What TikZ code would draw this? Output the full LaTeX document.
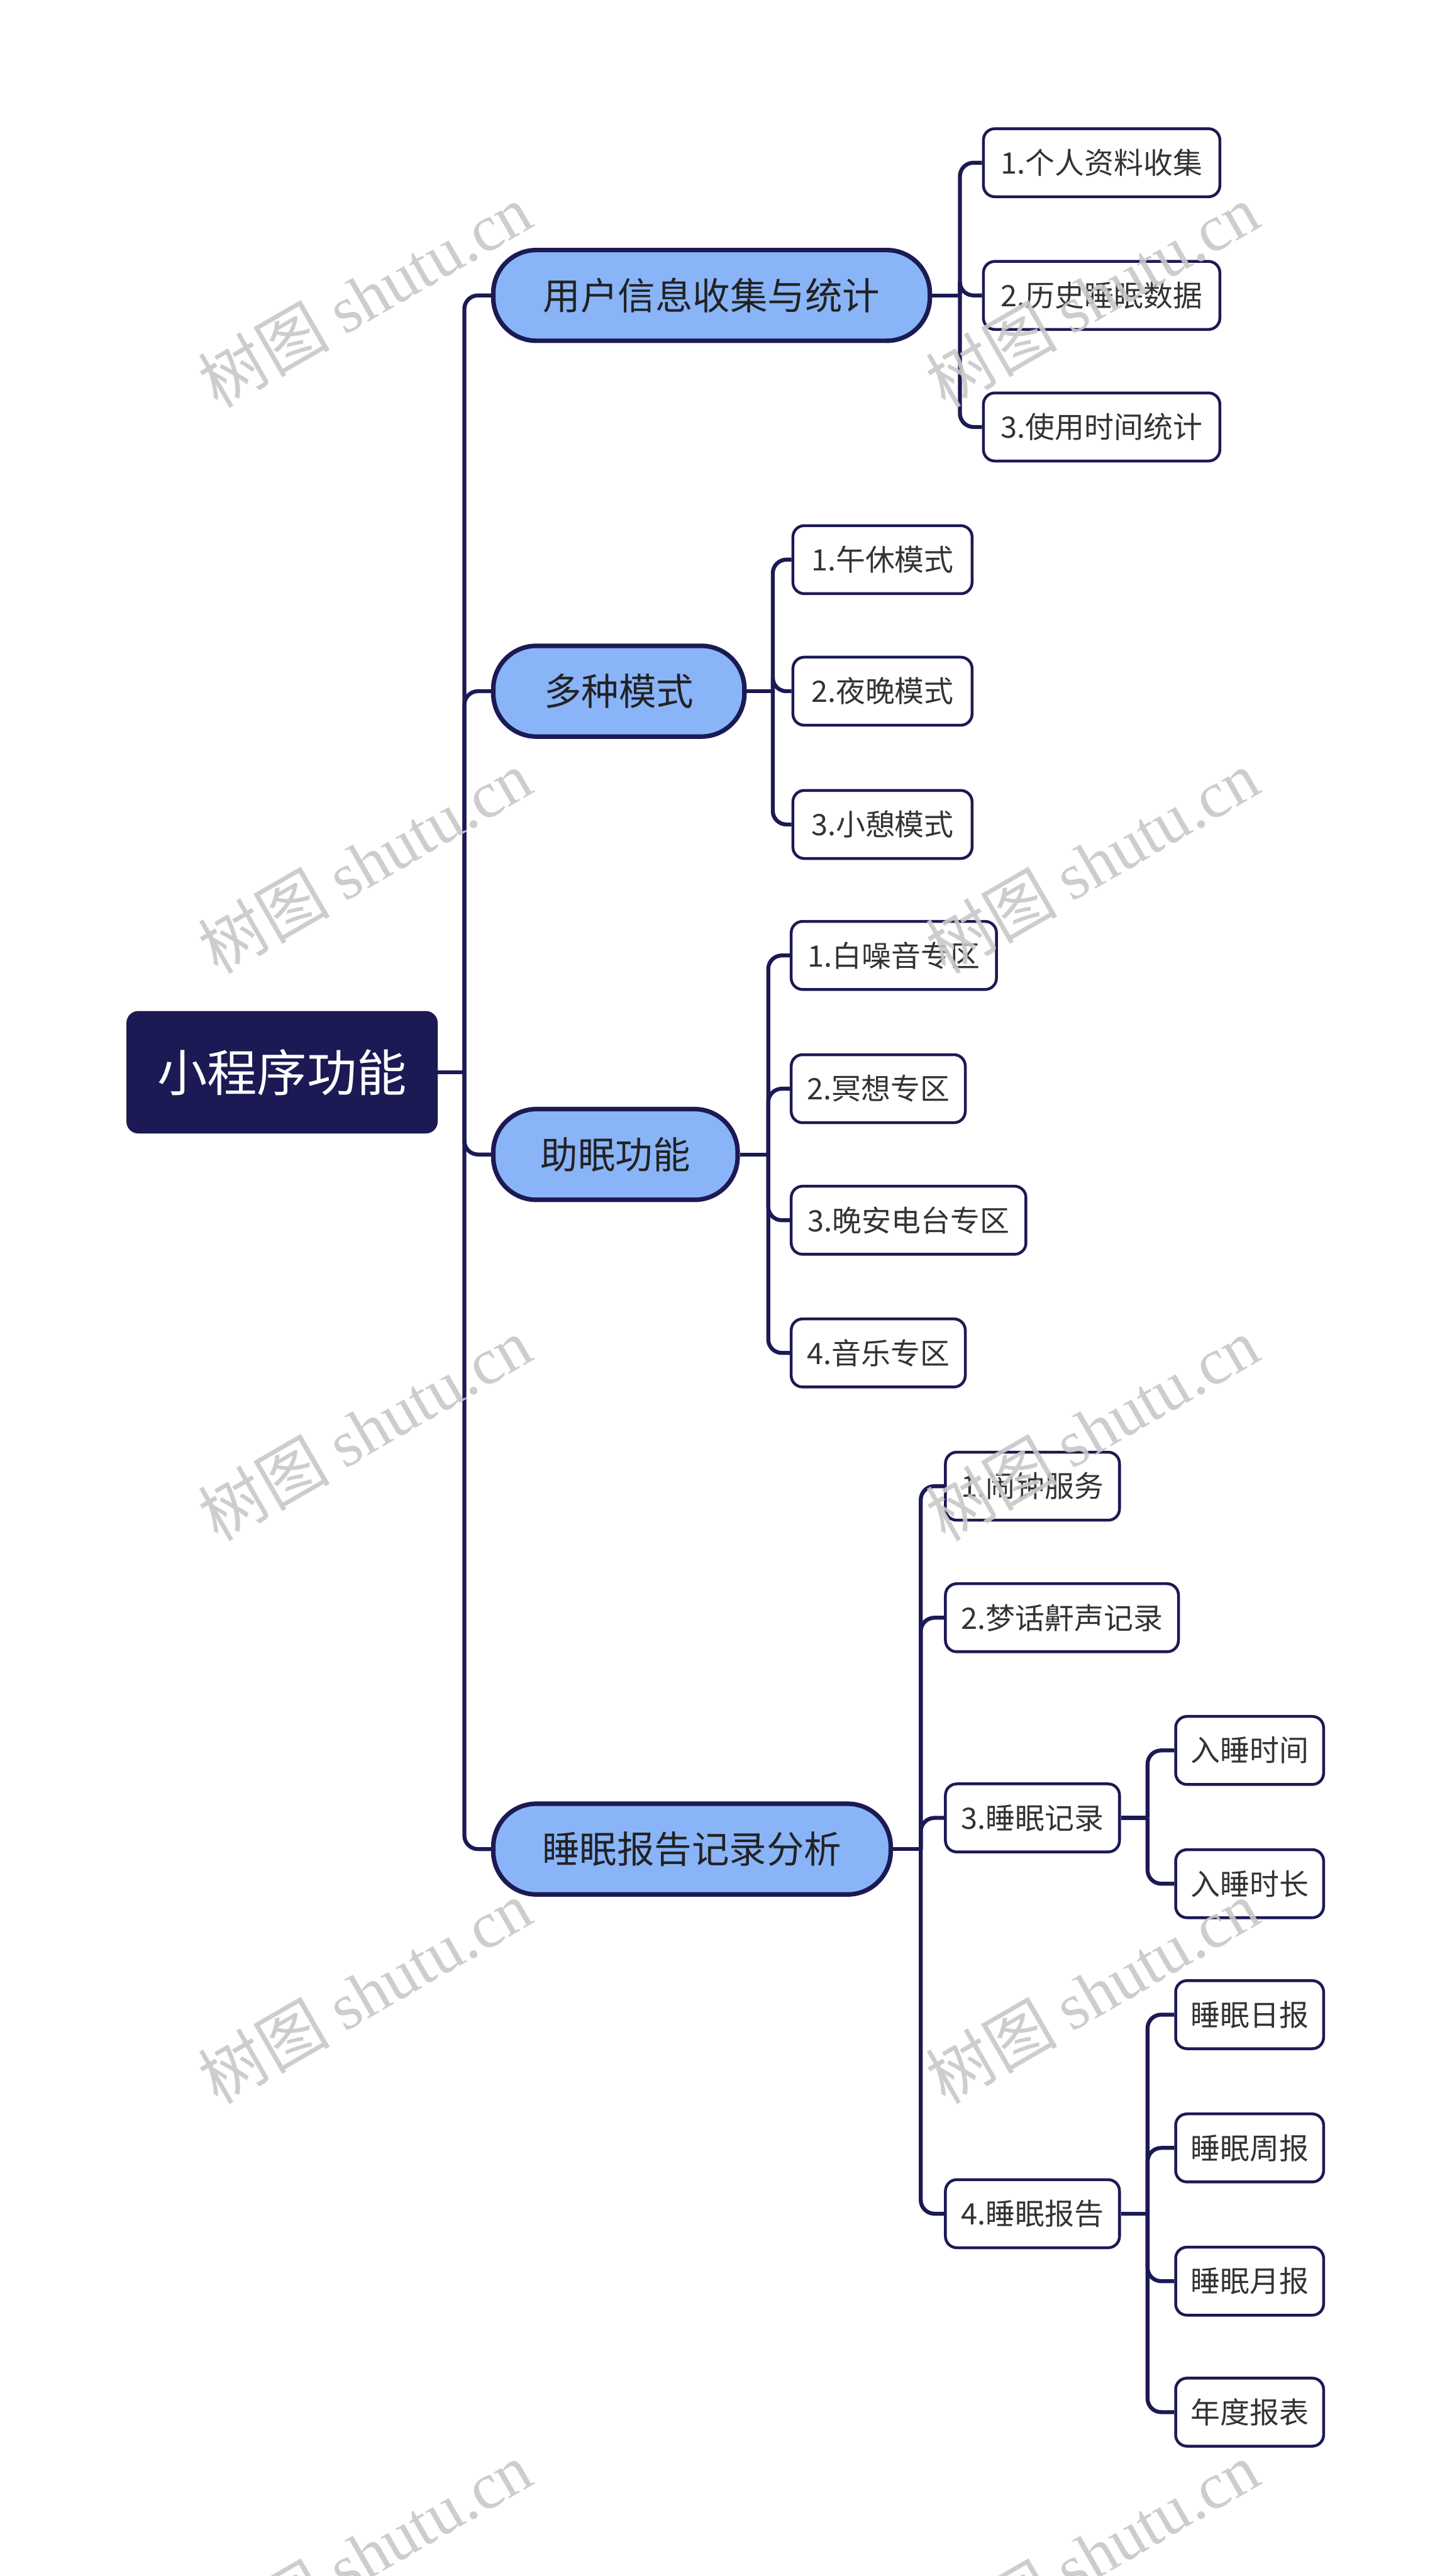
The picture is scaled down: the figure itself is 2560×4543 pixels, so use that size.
\documentclass[tikz,border=0pt]{standalone}
\usepackage{fontspec}
\setmainfont{Noto Sans CJK SC}
\newfontfamily\wmcjk{Noto Sans CJK SC}
\newfontfamily\wmlat{Liberation Serif}
\usetikzlibrary{calc}
\definecolor{navy}{RGB}{27,26,85}
\definecolor{pillblue}{RGB}{138,180,248}
\definecolor{leaftxt}{RGB}{51,51,51}
\definecolor{pilltxt}{RGB}{34,34,34}
\definecolor{wmgray}{RGB}{200,200,200}
\begin{document}
\begin{tikzpicture}[x=0.5pt,y=-0.5pt,
  rootbox/.style={fill=navy, draw=navy, line width=1pt, rounded corners=10pt, text=white,
    font=\fontsize{44}{50}\selectfont, minimum height=107pt, inner xsep=4pt, anchor=west},
  pill/.style={fill=pillblue, draw=navy, line width=4pt, rounded corners=38pt, minimum height=80pt,
    font=\fontsize{33}{38}\selectfont, text=pilltxt, inner xsep=4pt, anchor=west},
  leaf/.style={fill=white, draw=navy, line width=2.5pt, rounded corners=10pt, minimum height=60pt,
    font=\fontsize{26}{30}\selectfont, text=leaftxt, inner xsep=4pt, anchor=west},
  conn/.style={draw=navy, line width=3.5pt, rounded corners=12pt},
  wmark/.style={rotate=30, text=wmgray, text opacity=0.9, font=\fontsize{58}{64}\selectfont}
]
\useasboundingbox (0,0) rectangle (2560,4543);

% root
\node[rootbox, minimum width=273.5pt] (root) at (223,1891) {小程序功能};

% level 1
\node[pill, minimum width=385pt]   (A) at (866,521)  {用户信息收集与统计};
\node[pill, minimum width=221.5pt] (B) at (866,1219) {多种模式};
\node[pill, minimum width=215.5pt] (C) at (866,2036) {助眠功能};
\node[pill, minimum width=350.5pt] (D) at (866,3261) {睡眠报告记录分析};

% A children
\node[leaf, minimum width=208.5pt] (A1) at (1732,287) {1.个人资料收集};
\node[leaf, minimum width=208.5pt] (A2) at (1732,521) {2.历史睡眠数据};
\node[leaf, minimum width=208.5pt] (A3) at (1732,753) {3.使用时间统计};

% B children
\node[leaf, minimum width=158pt] (B1) at (1396,987)  {1.午休模式};
\node[leaf, minimum width=158pt] (B2) at (1396,1219) {2.夜晚模式};
\node[leaf, minimum width=158pt] (B3) at (1396,1454) {3.小憩模式};

% C children
\node[leaf, minimum width=181pt]   (C1) at (1393,1685) {1.白噪音专区};
\node[leaf, minimum width=153.5pt] (C2) at (1393,1920) {2.冥想专区};
\node[leaf, minimum width=207pt]   (C3) at (1393,2152) {3.晚安电台专区};
\node[leaf, minimum width=153.5pt] (C4) at (1393,2386) {4.音乐专区};

% D children
\node[leaf, minimum width=153.5pt] (D1) at (1665,2621) {1.闹钟服务};
\node[leaf, minimum width=205.5pt] (D2) at (1665,2853) {2.梦话鼾声记录};
\node[leaf, minimum width=153.5pt] (D3) at (1665,3206) {3.睡眠记录};
\node[leaf, minimum width=153.5pt] (D4) at (1665,3904) {4.睡眠报告};

% D3 children
\node[leaf, minimum width=130.5pt] (D31) at (2071,3087) {入睡时间};
\node[leaf, minimum width=130.5pt] (D32) at (2071,3322) {入睡时长};

% D4 children
\node[leaf, minimum width=130.5pt] (D41) at (2071,3553) {睡眠日报};
\node[leaf, minimum width=130.5pt] (D42) at (2071,3788) {睡眠周报};
\node[leaf, minimum width=130.5pt] (D43) at (2071,4023) {睡眠月报};
\node[leaf, minimum width=130.5pt] (D44) at (2071,4254) {年度报表};

% trunk coordinates
\coordinate (tR) at ($(root.east)+(47,0)$);
\coordinate (tA) at ($(A.east)+(49,0)$);
\coordinate (tB) at ($(B.east)+(46,0)$);
\coordinate (tC) at ($(C.east)+(50,0)$);
\coordinate (tD) at ($(D.east)+(49,0)$);
\coordinate (tD3) at ($(D3.east)+(47,0)$);
\coordinate (tD4) at ($(D4.east)+(47,0)$);

% connectors
\begin{scope}[on background layer/.style={}]
\draw[conn] (root.east) -- (tR);
\foreach \c in {A,B,C,D} { \draw[conn] (tR) |- (\c.west); }
\draw[conn] (A.east) -- (tA);
\foreach \c in {A1,A2,A3} { \draw[conn] (tA) |- (\c.west); }
\draw[conn] (B.east) -- (tB);
\foreach \c in {B1,B2,B3} { \draw[conn] (tB) |- (\c.west); }
\draw[conn] (C.east) -- (tC);
\foreach \c in {C1,C2,C3,C4} { \draw[conn] (tC) |- (\c.west); }
\draw[conn] (D.east) -- (tD);
\foreach \c in {D1,D2,D3,D4} { \draw[conn] (tD) |- (\c.west); }
\draw[conn] (D3.east) -- (tD3);
\foreach \c in {D31,D32} { \draw[conn] (tD3) |- (\c.west); }
\draw[conn] (D4.east) -- (tD4);
\foreach \c in {D41,D42,D43,D44} { \draw[conn] (tD4) |- (\c.west); }
\end{scope}

% watermarks
\foreach \yy in {521,1520,2520,3513,4503} {
  \node[wmark] (wl\yy) at (643,\yy) {\wmcjk 树图 \wmlat shutu.cn};
  \node[wmark] (wr\yy) at (1926,\yy) {\wmcjk 树图 \wmlat shutu.cn};
}
\end{tikzpicture}
\end{document}
